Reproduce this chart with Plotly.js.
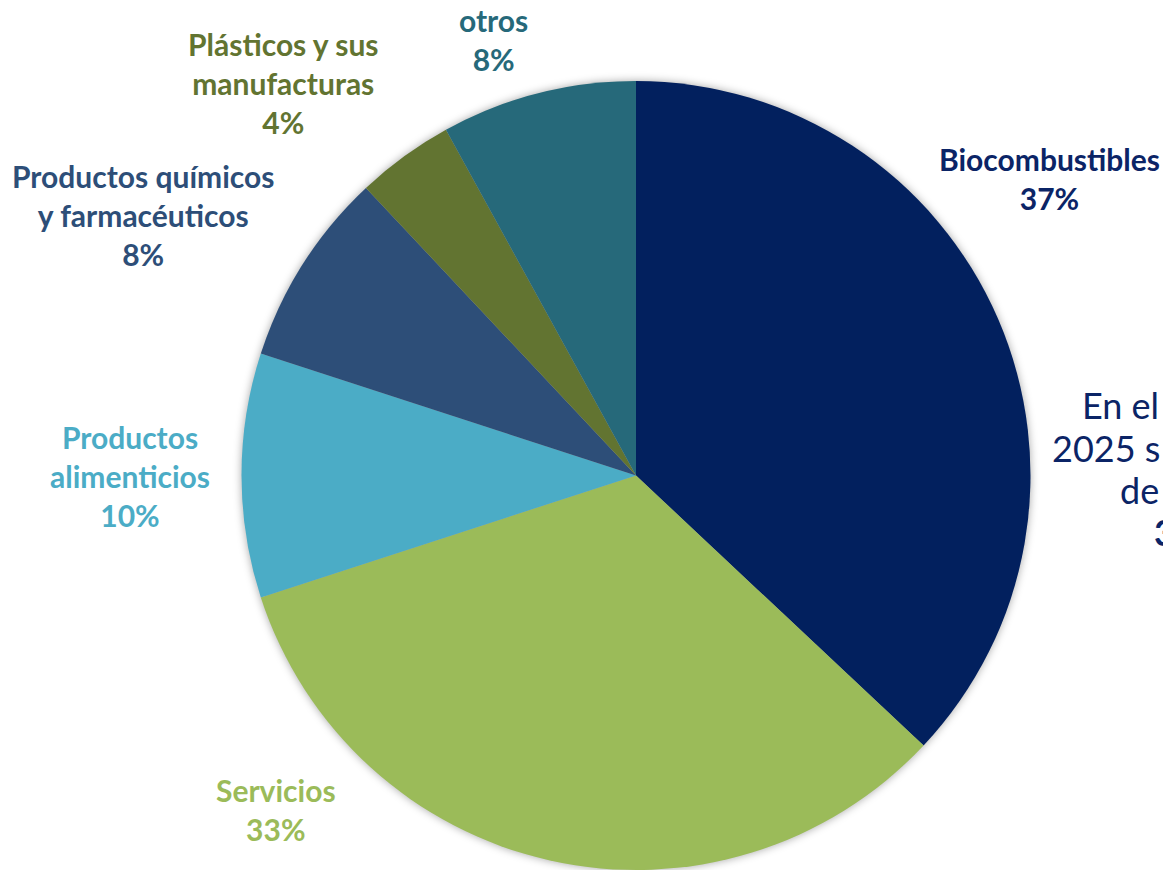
<!DOCTYPE html>
<html>
<head>
<meta charset="utf-8">
<script src="https://cdn.plot.ly/plotly-3.0.1.min.js"></script>
<style>
  html, body { margin: 0; padding: 0; background: #ffffff; }
  #chart { width: 1163px; height: 870px; }
  .pielayer { filter: drop-shadow(0 0 4px rgba(0,0,0,0.35)); }
</style>
</head>
<body>
<div id="chart"></div>
<script>
const categories = ["Biocombustibles", "Servicios", "Productos alimenticios", "Productos químicos y farmacéuticos", "Plásticos y sus manufacturas", "otros"];
const values = [37, 33, 10, 8, 4, 8];
const sliceColors = ["#02205E", "#9BBB59", "#4BACC6", "#2D4E78", "#627431", "#26697A"];
const labelColors = ["#0B2466", "#9BBB59", "#4BACC6", "#2D4E78", "#627431", "#26697A"];
const labelLines = [
  ["Biocombustibles"],
  ["Servicios"],
  ["Productos", "alimenticios"],
  ["Productos químicos", "y farmacéuticos"],
  ["Plásticos y sus", "manufacturas"],
  ["otros"]
];
// label anchor positions (pixels, center x / center y of text block)
const labelPos = [
  [1049, 178], [276, 809], [130, 476], [143, 215], [283, 83], [493, 40]
];
const sideText = ["En el", "2025 s", "de", "3"];

const W = 1163, H = 870;
const total = values.reduce((a, b) => a + b, 0);

const trace = {
  type: "pie",
  labels: categories,
  values: values,
  sort: false,
  direction: "clockwise",
  rotation: 0,
  textinfo: "none",
  hoverinfo: "label+percent",
  marker: { colors: sliceColors, line: { width: 0 } },
  domain: { x: [241 / W, 1031 / W], y: [0, 789 / H] },
  showlegend: false
};

const annotations = categories.map((c, i) => {
  const pct = Math.round(values[i] / total * 100) + "%";
  const lines = labelLines[i].concat([pct]);
  return {
    xref: "paper", yref: "paper",
    x: labelPos[i][0] / W, y: 1 - labelPos[i][1] / H,
    xanchor: "center", yanchor: "middle",
    text: lines.join("<br>"),
    showarrow: false,
    align: "center",
    font: { family: "Lato, 'Open Sans', sans-serif", size: 30, color: labelColors[i], weight: 700 }
  };
});

const sideX = [1080, 1050, 1118, 1152];
const sideY = [405, 448, 490, 532];
sideText.forEach((t, i) => {
  annotations.push({
    xref: "paper", yref: "paper",
    x: sideX[i] / W, y: 1 - sideY[i] / H,
    xanchor: "left", yanchor: "middle",
    text: t,
    showarrow: false,
    font: { family: "Lato, 'Open Sans', sans-serif", size: 36, color: "#0B2466", weight: i === 3 ? 700 : 400 }
  });
});

const layout = {
  width: W, height: H,
  margin: { l: 0, r: 0, t: 0, b: 0 },
  paper_bgcolor: "#ffffff",
  plot_bgcolor: "#ffffff",
  annotations: annotations
};

Plotly.newPlot("chart", [trace], layout, { displayModeBar: false, staticPlot: true });
</script>
</body>
</html>
